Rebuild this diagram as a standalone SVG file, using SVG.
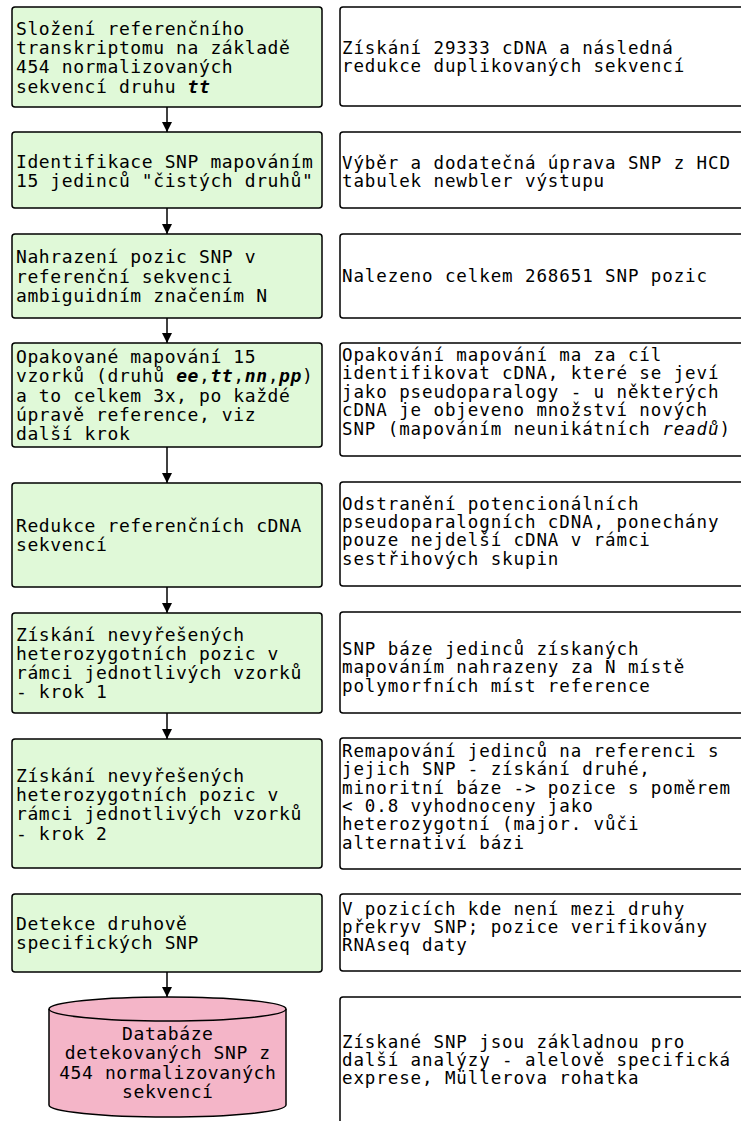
<svg xmlns="http://www.w3.org/2000/svg" width="741" height="1121" viewBox="0 0 741 1121">
<defs>
<style>
.step{fill:#e0f9d8;stroke:#000;stroke-width:1.5}
.note{fill:#fff;stroke:#000;stroke-width:1.5}
.db{fill:#f4b5c8;stroke:#000;stroke-width:1.5}
text{font-family:"DejaVu Sans Mono","Liberation Mono",monospace;font-size:18px;letter-spacing:0.6px;fill:#000}
.n text{font-size:17.5px;letter-spacing:0.9px}
.c{text-anchor:middle}
.bi{font-weight:bold;font-style:italic}
.i{font-style:italic}
.edge{stroke:#000;stroke-width:1.5;fill:none;marker-end:url(#arr)}
</style>
<marker id="arr" viewBox="0 0 10 12" refX="10" refY="6" markerWidth="11" markerHeight="12" markerUnits="userSpaceOnUse" orient="auto">
<path d="M0,1 L10,6 L0,11 Z" fill="#000"/>
</marker>
</defs>
<rect width="741" height="1121" fill="#fff"/>

<g id="connectors">
<line class="edge" x1="167" y1="107" x2="167" y2="132"/>
<line class="edge" x1="167" y1="208" x2="167" y2="234"/>
<line class="edge" x1="167" y1="318" x2="167" y2="343"/>
<line class="edge" x1="167" y1="447" x2="167" y2="483"/>
<line class="edge" x1="167" y1="587" x2="167" y2="613"/>
<line class="edge" x1="167" y1="713" x2="167" y2="739"/>
<line class="edge" x1="167" y1="972" x2="167" y2="997"/>
</g>

<g id="step1">
<rect class="step" x="12" y="7" width="310" height="100" rx="3"/>
<text x="16" y="35">Složení referenčního</text>
<text x="16" y="54.2">transkriptomu na základě</text>
<text x="16" y="73.4">454 normalizovaných</text>
<text x="16" y="92.6">sekvencí druhu <tspan class="bi">tt</tspan></text>
</g>
<g id="note1" class="n">
<rect class="note" x="340" y="7" width="420" height="99" rx="3"/>
<text x="342" y="54">Získání 29333 cDNA a následná</text>
<text x="342" y="72.4">redukce duplikovaných sekvencí</text>
</g>

<g id="step2">
<rect class="step" x="12" y="132" width="310" height="76" rx="3"/>
<text x="16" y="168">Identifikace SNP mapováním</text>
<text x="16" y="187">15 jedinců "čistých druhů"</text>
</g>
<g id="note2" class="n">
<rect class="note" x="340" y="132" width="420" height="76" rx="3"/>
<text x="342" y="168.5">Výběr a dodatečná úprava SNP z HCD</text>
<text x="342" y="186.9">tabulek newbler výstupu</text>
</g>

<g id="step3">
<rect class="step" x="12" y="234" width="310" height="84" rx="3"/>
<text x="16" y="263.3">Nahrazení pozic SNP v</text>
<text x="16" y="282.5">referenční sekvenci</text>
<text x="16" y="301.7">ambiguidním značením N</text>
</g>
<g id="note3" class="n">
<rect class="note" x="340" y="234" width="420" height="84" rx="3"/>
<text x="342" y="282">Nalezeno celkem 268651 SNP pozic</text>
</g>

<g id="step4">
<rect class="step" x="12" y="343" width="310" height="104" rx="3"/>
<text x="16" y="363.1">Opakované mapování 15</text>
<text x="16" y="382.3">vzorků (druhů <tspan class="bi">ee</tspan>,<tspan class="bi">tt</tspan>,<tspan class="bi">nn</tspan>,<tspan class="bi">pp</tspan>)</text>
<text x="16" y="401.5">a to celkem 3x, po každé</text>
<text x="16" y="420.7">úpravě reference, viz</text>
<text x="16" y="439.9">další krok</text>
</g>
<g id="note4" class="n">
<rect class="note" x="340" y="343" width="420" height="113" rx="3"/>
<text x="342" y="360.9">Opakování mapování ma za cíl</text>
<text x="342" y="379.3">identifikovat cDNA, které se jeví</text>
<text x="342" y="397.7">jako pseudoparalogy - u některých</text>
<text x="342" y="416.1">cDNA je objeveno množství nových</text>
<text x="342" y="434.5">SNP (mapováním neunikátních <tspan class="i">readů</tspan>)</text>
</g>

<g id="step5">
<rect class="step" x="12" y="483" width="310" height="104" rx="3"/>
<text x="16" y="531.9">Redukce referenčních cDNA</text>
<text x="16" y="551.1">sekvencí</text>
</g>
<g id="note5" class="n">
<rect class="note" x="340" y="482" width="420" height="104" rx="3"/>
<text x="342" y="509.6">Odstranění potencionálních</text>
<text x="342" y="528">pseudoparalogních cDNA, ponechány</text>
<text x="342" y="546.4">pouze nejdelší cDNA v rámci</text>
<text x="342" y="564.8">sestřihových skupin</text>
</g>

<g id="step6">
<rect class="step" x="12" y="613" width="310" height="100" rx="3"/>
<text x="16" y="640.7">Získání nevyřešených</text>
<text x="16" y="659.9">heterozygotních pozic v</text>
<text x="16" y="679.1">rámci jednotlivých vzorků</text>
<text x="16" y="698.3">- krok 1</text>
</g>
<g id="note6" class="n">
<rect class="note" x="340" y="612" width="420" height="101" rx="3"/>
<text x="342" y="654.7">SNP báze jedinců získaných</text>
<text x="342" y="673.1">mapováním nahrazeny za N místě</text>
<text x="342" y="691.5">polymorfních míst reference</text>
</g>

<g id="step7">
<rect class="step" x="12" y="739" width="310" height="129" rx="3"/>
<text x="16" y="782">Získání nevyřešených</text>
<text x="16" y="801.2">heterozygotních pozic v</text>
<text x="16" y="820.4">rámci jednotlivých vzorků</text>
<text x="16" y="839.6">- krok 2</text>
</g>
<g id="note7" class="n">
<rect class="note" x="340" y="738" width="420" height="131" rx="3"/>
<text x="342" y="756.8">Remapování jedinců na referenci s</text>
<text x="342" y="775.2">jejich SNP - získání druhé,</text>
<text x="342" y="793.6">minoritní báze -&gt; pozice s poměrem</text>
<text x="342" y="812">&lt; 0.8 vyhodnoceny jako</text>
<text x="342" y="830.4">heterozygotní (major. vůči</text>
<text x="342" y="848.8">alternativí bázi</text>
</g>

<g id="step8">
<rect class="step" x="12" y="894" width="310" height="78" rx="3"/>
<text x="16" y="929.9">Detekce druhově</text>
<text x="16" y="949.1">specifických SNP</text>
</g>
<g id="note8" class="n">
<rect class="note" x="340" y="894" width="420" height="77" rx="3"/>
<text x="342" y="914.6">V pozicích kde není mezi druhy</text>
<text x="342" y="933">překryv SNP; pozice verifikovány</text>
<text x="342" y="951.4">RNAseq daty</text>
</g>

<g id="database">
<path class="db" d="M49,1009 A118.5,12 0 0 1 286,1009 L286,1105 A118.5,12 0 0 1 49,1105 Z"/>
<path d="M49,1009 A118.5,12 0 0 0 286,1009" fill="none" stroke="#000" stroke-width="1.5"/>
<text class="c" x="167.8" y="1040">Databáze</text>
<text class="c" x="167.8" y="1059.3">detekovaných SNP z</text>
<text class="c" x="167.8" y="1078.6">454 normalizovaných</text>
<text class="c" x="167.8" y="1097.9">sekvencí</text>
</g>
<g id="note9" class="n">
<rect class="note" x="340" y="997" width="420" height="150" rx="3"/>
<text x="342" y="1047.6">Získané SNP jsou základnou pro</text>
<text x="342" y="1066">další analýzy - alelově specifická</text>
<text x="342" y="1084.4">exprese, Müllerova rohatka</text>
</g>
</svg>
